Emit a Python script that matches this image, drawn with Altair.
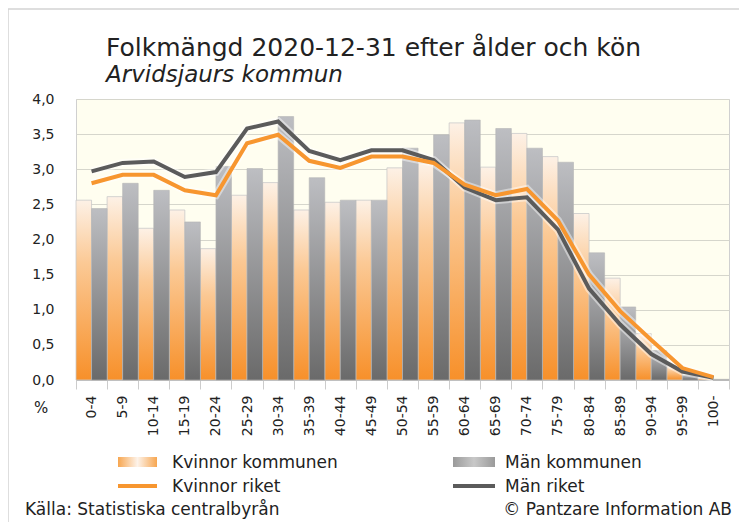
import altair as alt
import pandas as pd

ages = ["0-4", "5-9", "10-14", "15-19", "20-24", "25-29", "30-34", "35-39", "40-44",
        "45-49", "50-54", "55-59", "60-64", "65-69", "70-74", "75-79", "80-84",
        "85-89", "90-94", "95-99", "100-"]
kvinnor_kommunen = [2.56, 2.61, 2.16, 2.42, 1.87, 2.63, 2.81, 2.42, 2.53, 2.56, 3.02,
                    3.09, 3.66, 3.03, 3.51, 3.18, 2.37, 1.45, 0.66, 0.20, 0.03]
man_kommunen = [2.44, 2.80, 2.70, 2.25, 3.04, 3.01, 3.75, 2.88, 2.56, 2.56, 3.30,
                3.49, 3.70, 3.58, 3.30, 3.10, 1.81, 1.04, 0.42, 0.07, 0.01]
kvinnor_riket = [2.80, 2.92, 2.92, 2.70, 2.63, 3.37, 3.49, 3.12, 3.02, 3.18, 3.18,
                 3.09, 2.78, 2.63, 2.72, 2.27, 1.50, 0.98, 0.57, 0.17, 0.04]
man_riket = [2.97, 3.09, 3.11, 2.89, 2.96, 3.58, 3.68, 3.26, 3.13, 3.27, 3.27,
             3.13, 2.74, 2.56, 2.60, 2.14, 1.30, 0.79, 0.37, 0.12, 0.03]
y_ticks = [0, 0.5, 1.0, 1.5, 2.0, 2.5, 3.0, 3.5, 4.0]

title_text = "Folkmängd 2020-12-31 efter ålder och kön"
subtitle_text = "Arvidsjaurs kommun"
legend_labels = ["Kvinnor kommunen", "Män kommunen", "Kvinnor riket", "Män riket"]
source_text = "Källa: Statistiska centralbyrån"
copyright_text = "© Pantzare Information AB"

FONT = "DejaVu Sans"
W, H = 653, 281
ORANGE = "#F7962F"
DARK = "#5B5B5B"

bars = pd.DataFrame({
    "age": ages * 2,
    "serie": ["K"] * len(ages) + ["M"] * len(ages),
    "value": kvinnor_kommunen + man_kommunen,
})
lines = pd.DataFrame({
    "age": ages * 2,
    "serie": ["Kvinnor riket"] * len(ages) + ["Män riket"] * len(ages),
    "value": kvinnor_riket + man_riket,
})

x_axis = alt.Axis(title=None, labelAngle=270, labelFontSize=14, labelColor="#222",
                  labelFont=FONT, labelPadding=6, tickBand="extent", tickSize=9,
                  tickColor="#cccccc", domainColor="#bbbbbb", labelAlign="right",
                  labelBaseline="middle", labelOverlap=False)
y_axis = alt.Axis(title=None, values=y_ticks, labelFontSize=14, labelColor="#222",
                  labelFont=FONT, labelPadding=22, ticks=False, domain=False,
                  gridColor="#d6d6cc", gridWidth=1.2, labelOverlap=False, labelFlush=False,
                  labelExpr="replace(format(datum.value, '.1f'), '.', ',')")
x_scale = alt.Scale(paddingInner=0, paddingOuter=0)
y_scale = alt.Scale(domain=[0, 4], nice=False)

x_enc = alt.X("age:N", sort=ages, scale=x_scale, axis=x_axis)
y_enc = alt.Y("value:Q", scale=y_scale, axis=y_axis)

grad_k = alt.LinearGradient(gradient="linear", x1=0, x2=0, y1=0, y2=1, stops=[
    alt.GradientStop(offset=0, color="#FDF1E6"),
    alt.GradientStop(offset=0.35, color="#FBC995"),
    alt.GradientStop(offset=1, color="#F7902A")])
grad_m = alt.LinearGradient(gradient="linear", x1=0, x2=0, y1=0, y2=1, stops=[
    alt.GradientStop(offset=0, color="#BDBEC2"),
    alt.GradientStop(offset=1, color="#6A6A6A")])

base_bars = alt.Chart(bars).encode(
    x=x_enc, y=y_enc,
    xOffset=alt.XOffset("serie:N", scale=alt.Scale(domain=["K", "M"], paddingInner=0, paddingOuter=0)))
bars_k = base_bars.mark_bar(fill=grad_k, stroke="#c9c9c9", strokeWidth=0.8).transform_filter(
    alt.datum.serie == "K")
bars_m = base_bars.mark_bar(fill=grad_m, stroke="#b5b5b5", strokeWidth=0.6).transform_filter(
    alt.datum.serie == "M")

base_lines = alt.Chart(lines).encode(x=x_enc, y=y_enc, detail="serie:N")
halo = base_lines.mark_line(stroke="white", strokeWidth=8, opacity=0.45)
line_m = base_lines.mark_line(stroke=DARK, strokeWidth=4).transform_filter(
    alt.datum.serie == "Män riket")
line_k = base_lines.mark_line(stroke=ORANGE, strokeWidth=4).transform_filter(
    alt.datum.serie == "Kvinnor riket")

one = alt.Data(values=[{"a": 1}])


def label(text, x, y, size=17, align="left", style="normal", color="#222"):
    return alt.Chart(one).mark_text(
        text=text, align=align, baseline="alphabetic", fontSize=size, font=FONT,
        fontStyle=style, color=color).encode(x=alt.value(x), y=alt.value(y))


def swatch(x1, x2, y1, y2, fill):
    return alt.Chart(one).mark_rect(fill=fill).encode(
        x=alt.value(x1), x2=alt.value(x2), y=alt.value(y1), y2=alt.value(y2))


sw_k = alt.LinearGradient(gradient="linear", x1=0, x2=1, y1=0, y2=0, stops=[
    alt.GradientStop(offset=0, color="#F7A650"),
    alt.GradientStop(offset=0.5, color="#FDF3EA"),
    alt.GradientStop(offset=1, color="#F7A650")])
sw_m = alt.LinearGradient(gradient="linear", x1=0, x2=1, y1=0, y2=0, stops=[
    alt.GradientStop(offset=0, color="#9a9a9a"),
    alt.GradientStop(offset=0.5, color="#c8c8c8"),
    alt.GradientStop(offset=1, color="#9a9a9a")])

frame = alt.Chart(one).mark_rect(fill="transparent", stroke="#d4d4d4", strokeWidth=1.5).encode(
    x=alt.value(-68), x2=alt.value(W + 40), y=alt.value(-90), y2=alt.value(H + 200))

annotations = [
    frame,
    label(title_text, 30, -43, size=25),
    label(subtitle_text, 30, -17, size=23, style="italic"),
    label("%", -35, 314, size=15, align="center"),
    swatch(42, 81, 358, 368, sw_k),
    label(legend_labels[0], 96, 369),
    swatch(377, 419, 358, 368, sw_m),
    label(legend_labels[1], 429, 369),
    alt.Chart(one).mark_rule(stroke=ORANGE, strokeWidth=4).encode(
        x=alt.value(42), x2=alt.value(81), y=alt.value(387)),
    label(legend_labels[2], 96, 393),
    alt.Chart(one).mark_rule(stroke=DARK, strokeWidth=4).encode(
        x=alt.value(377), x2=alt.value(419), y=alt.value(387)),
    label(legend_labels[3], 429, 393),
    label(source_text, -51, 416),
    label(copyright_text, 656, 416, align="right"),
]

chart = alt.layer(bars_k, bars_m, halo, line_m, line_k, *annotations).properties(
    width=W, height=H,
    autosize=alt.AutoSizeParams(type="none"),
    padding={"left": 68, "top": 91, "right": 10, "bottom": 142},
    background="white",
).configure_view(fill="#FFFEF0", stroke="#d0d0d0", strokeWidth=1)

chart.save("out.html", embed_options={"renderer": "svg", "actions": False})
